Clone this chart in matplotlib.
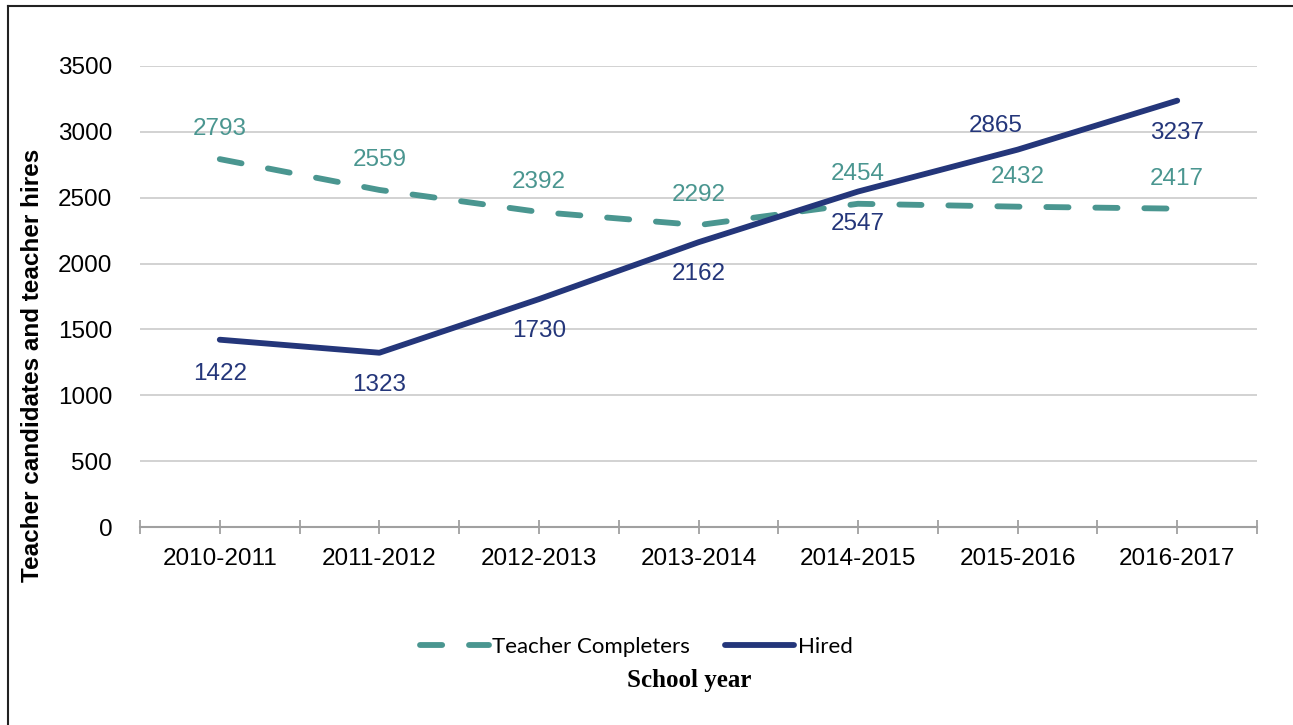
import matplotlib
matplotlib.use("Agg")
import matplotlib.pyplot as plt
from matplotlib.lines import Line2D

years = ["2010-2011", "2011-2012", "2012-2013", "2013-2014", "2014-2015", "2015-2016", "2016-2017"]
completers = [2793, 2559, 2392, 2292, 2454, 2432, 2417]
hired = [1422, 1323, 1730, 2162, 2547, 2865, 3237]
yticks = [0, 500, 1000, 1500, 2000, 2500, 3000, 3500]

TEAL = "#4A9690"
NAVY = "#24367A"
W, H = 1293, 725
FS = 17.5

fig = plt.figure(figsize=(W / 100, H / 100), dpi=100)
ax = fig.add_axes([140 / W, 1 - 527 / H, (1257 - 140) / W, (527 - 66) / H])

x = list(range(len(years)))
ax.plot(x, completers, color=TEAL, lw=4.2, linestyle=(0, (3.8, 4.6)),
        dash_capstyle="round", solid_capstyle="round", zorder=3)
ax.plot(x, hired, color=NAVY, lw=4.2, solid_capstyle="round",
        solid_joinstyle="round", zorder=4)

ax.set_xlim(-0.5, len(years) - 0.5)
ax.set_ylim(0, 3500)
ax.set_yticks(yticks)
ax.set_yticklabels([str(v) for v in yticks], fontsize=FS, family="Liberation Sans")
ax.set_xticks(x)
ax.set_xticklabels(years, fontsize=FS, family="Liberation Sans")
ax.set_xticks([i - 0.5 for i in range(len(years) + 1)], minor=True)
ax.tick_params(axis="x", which="both", direction="inout", length=10, width=1.3,
               color="#A0A0A0", pad=10)
ax.tick_params(axis="y", length=0, pad=20)
ax.grid(axis="y", color="#CFCFCF", lw=1.3)
ax.set_axisbelow(True)
for s in ["top", "right", "left"]:
    ax.spines[s].set_visible(False)
ax.spines["bottom"].set_color("#A0A0A0")
ax.spines["bottom"].set_linewidth(1.5)

# data labels
for i, v in enumerate(completers):
    ax.annotate(str(v), (i, v), xytext=(0, 30), textcoords="offset pixels",
                ha="center", va="center", fontsize=FS, color=TEAL,
                family="Liberation Sans")
for i, v in enumerate(hired):
    if i == 5:
        ax.annotate(str(v), (i, v), xytext=(-22, 24), textcoords="offset pixels",
                    ha="center", va="center", fontsize=FS, color=NAVY,
                    family="Liberation Sans")
    else:
        off = -32 if i != 0 else -34
        ax.annotate(str(v), (i, v), xytext=(0, off), textcoords="offset pixels",
                    ha="center", va="center", fontsize=FS, color=NAVY,
                    family="Liberation Sans")

fig.text(33 / W, 1 - 365 / H, "Teacher candidates and teacher hires", rotation=90,
         ha="center", va="center", fontsize=17.5, fontweight="bold", family="Liberation Sans")

handles = [Line2D([], [], color=TEAL, lw=4.2, linestyle=(0, (3.8, 4.6)), dash_capstyle="round"),
           Line2D([], [], color=NAVY, lw=4.2, solid_capstyle="round")]
leg = fig.legend(handles, ["Teacher Completers", "Hired"], loc="center",
                 bbox_to_anchor=(636 / W, 1 - 647 / H), ncol=2, frameon=False,
                 prop={"family": "Lato", "size": 16}, handlelength=3.1,
                 handletextpad=0.15, columnspacing=1.6)

fig.text(689 / W, 1 - 681 / H, "School year", ha="center", va="center",
         fontsize=18, fontweight="bold", family="Liberation Serif")

# outer border (top and left only)
fig.add_artist(Line2D([8 / W, 1], [1 - 6 / H, 1 - 6 / H], transform=fig.transFigure,
                      color="#222222", lw=1.5))
fig.add_artist(Line2D([8 / W, 8 / W], [0, 1 - 6 / H], transform=fig.transFigure,
                      color="#222222", lw=1.5))

fig.savefig("out.png", dpi=100)
